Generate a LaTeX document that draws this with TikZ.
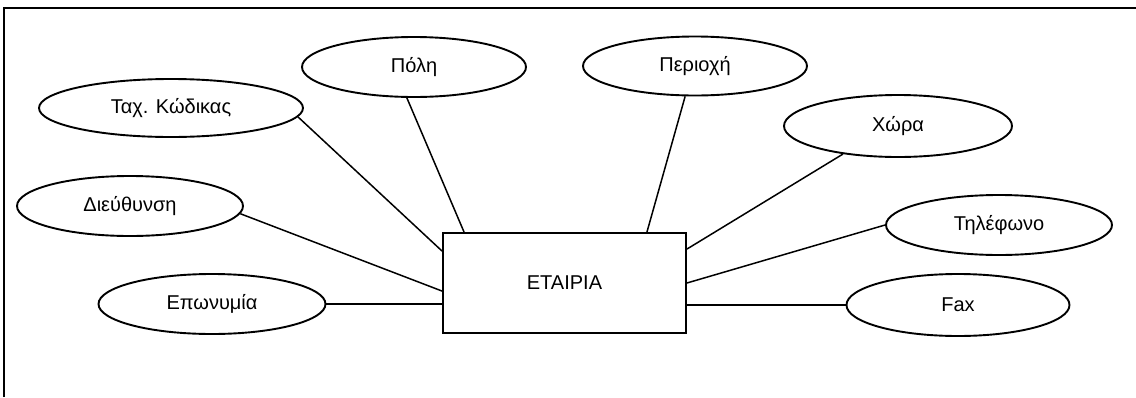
\documentclass[tikz,border=0pt]{standalone}
\usepackage{fontspec}
\setmainfont{Liberation Sans}
\usetikzlibrary{shapes.geometric,calc}
\begin{document}
\begin{tikzpicture}[x=1pt,y=-1pt,
  attr/.style={draw,ellipse,line width=1.9pt,inner sep=0pt,minimum width=226pt,minimum height=60pt,font=\fontsize{20}{24}\selectfont},
  ent/.style={draw,rectangle,line width=1.9pt,inner sep=0pt,minimum width=243pt,minimum height=100pt,font=\fontsize{20}{24}\selectfont},
  link/.style={line width=1.5pt},
  frame/.style={line width=2.2pt}]
\useasboundingbox (0,0) rectangle (1136,397);
% frame (top and left edges only)
\coordinate (ftl) at (4,8);
\coordinate (ftr) at (1136,8);
\coordinate (fbl) at (4,397);
\draw[frame] (fbl) -- (ftl) -- (ftr);
% entity
\node[ent] (r) at (564.5,283) {ΕΤΑΙΡΙΑ};
% attributes
\node[attr,minimum width=264pt,minimum height=58pt] (tk) at (171,108) {Ταχ. Κώδικας};
\node[attr,minimum width=224pt] (pol) at (414,67) {Πόλη};
\node[attr,minimum width=224pt,minimum height=59pt] (per) at (695,66) {Περιοχή};
\node[attr,minimum width=228pt,minimum height=62pt] (xo) at (898,126) {Χώρα};
\node[attr] (di) at (130,206) {Διεύθυνση};
\node[attr,minimum width=227pt] (ep) at (212,304) {Επωνυμία};
\node[attr] (tel) at (999,225) {Τηλέφωνο};
\node[attr,minimum width=223pt,minimum height=62pt] (fax) at (958,305) {Fax};
% connectors
\draw[link] (tk.-4) -- ($(r.north west)+(0,19)$);
\draw[link] (pol.-103) -- ($(r.north west)+(22,0)$);
\draw[link] (per.-108) -- ($(r.north east)+(-40,0)$);
\draw[link] (xo.207) -- ($(r.north east)+(0,17)$);
\draw[link] (di.-4) -- ($(r.north west)+(0,59)$);
\draw[link] (ep.east) -- (ep.east -| r.west);
\draw[link] (tel.west) -- (r.east);
\draw[link] (fax.west) -- (fax.west -| r.east);
\end{tikzpicture}
\end{document}
